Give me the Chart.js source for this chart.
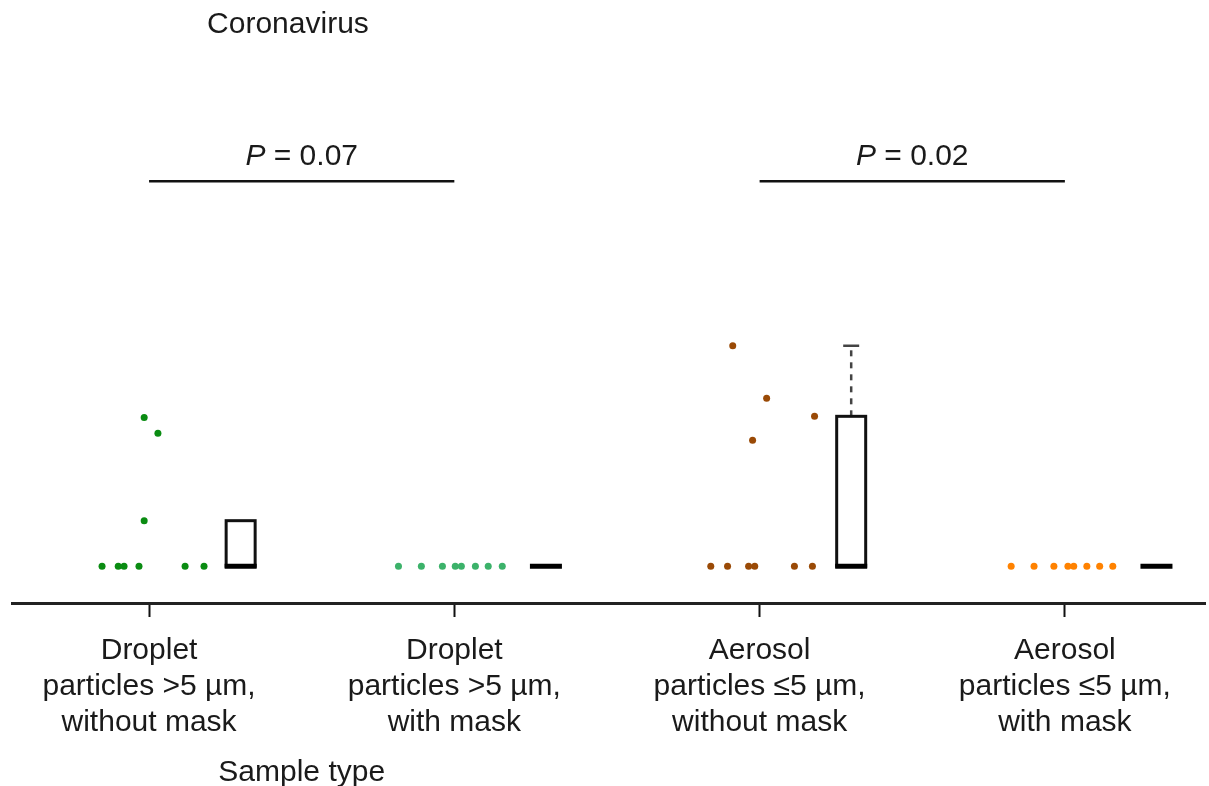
<!DOCTYPE html>
<html>
<head>
<meta charset="utf-8">
<script src="https://cdn.jsdelivr.net/npm/chart.js@4.4.0/dist/chart.umd.min.js"></script>
<style>
    body { margin: 0; background: #fff; }
    #wrap { width: 1209px; height: 786px; position: relative; }
</style>
</head>
<body>
<div id="wrap"><canvas id="chart"></canvas></div>
<script>
// Sample types on the x axis
const categories = [
    ['Droplet', 'particles >5 µm,', 'without mask'],
    ['Droplet', 'particles >5 µm,', 'with mask'],
    ['Aerosol', 'particles ≤5 µm,', 'without mask'],
    ['Aerosol', 'particles ≤5 µm,', 'with mask']
];
const pointColors = ['#0a8c12', '#3cb26a', '#9a4a06', '#ff8200'];

// Individual sample values (arbitrary viral load units) and horizontal jitter
const pointValues = [
    [4.05, 3.62, 1.24, 0, 0, 0, 0, 0, 0],
    [0, 0, 0, 0, 0, 0, 0, 0],
    [6.0, 4.57, 4.08, 3.43, 0, 0, 0, 0, 0, 0],
    [0, 0, 0, 0, 0, 0, 0, 0]
];
const pointJitter = [
    [-0.016, 0.029, -0.016, -0.154, -0.101, -0.082, -0.033, 0.118, 0.180],
    [-0.183, -0.108, -0.039, 0.003, 0.023, 0.069, 0.111, 0.157],
    [-0.088, 0.023, 0.180, -0.023, -0.160, -0.105, -0.036, -0.016, 0.114, 0.173],
    [-0.176, -0.101, -0.036, 0.010, 0.029, 0.072, 0.114, 0.157]
];

// Box plot summaries
const boxQ1 = [0, 0, 0, 0];
const boxMedian = [0, 0, 0, 0];
const boxQ3 = [1.24, 0, 4.08, 0];
const whiskerHigh = [1.24, 0, 6.0, 0];

// Comparisons
const comparisons = [[0, 1], [2, 3]];
const pValues = ['0.07', '0.02'];
const comparisonLevel = 10.48;

const chartTitle = 'Coronavirus';
const xAxisTitle = 'Sample type';

const FONT = '"Liberation Sans", Arial, sans-serif';
const FONT_SIZE = 30;
const BOX_OFFSET = 0.3;
const BOX_HALF = 16;

const datasets = pointValues.map((vals, i) => ({
    label: categories[i].join(' '),
    data: vals.map((v, j) => ({ x: i + pointJitter[i][j], y: v })),
    backgroundColor: pointColors[i],
    borderColor: pointColors[i],
    pointRadius: 3.5,
    borderWidth: 0
}));

const boxPlugin = {
    id: 'boxes',
    afterDatasetsDraw(chart) {
        const ctx = chart.ctx;
        const xs = chart.scales.x;
        const ys = chart.scales.y;
        ctx.save();
        for (let i = 0; i < categories.length; i++) {
            const cx = xs.getPixelForValue(i + BOX_OFFSET);
            const yQ1 = ys.getPixelForValue(boxQ1[i]);
            const yQ3 = ys.getPixelForValue(boxQ3[i]);
            const yMed = ys.getPixelForValue(boxMedian[i]);
            const yHi = ys.getPixelForValue(whiskerHigh[i]);

            // whisker
            if (whiskerHigh[i] > boxQ3[i]) {
                ctx.strokeStyle = '#444';
                ctx.lineWidth = 2.5;
                ctx.setLineDash([6, 6]);
                ctx.beginPath();
                ctx.moveTo(cx, yQ3);
                ctx.lineTo(cx, yHi);
                ctx.stroke();
                ctx.setLineDash([]);
                ctx.beginPath();
                ctx.moveTo(cx - 8, yHi);
                ctx.lineTo(cx + 8, yHi);
                ctx.stroke();
            }

            // box
            if (boxQ3[i] > boxQ1[i]) {
                ctx.strokeStyle = '#111';
                ctx.lineWidth = 3;
                ctx.strokeRect(cx - BOX_HALF + 1.5, yQ3, BOX_HALF * 2 - 3, yQ1 - yQ3);
            }

            // median
            ctx.fillStyle = '#000';
            ctx.fillRect(cx - BOX_HALF, yMed - 2.5, BOX_HALF * 2, 5);
        }
        ctx.restore();
    }
};

const textPlugin = {
    id: 'texts',
    afterDraw(chart) {
        const ctx = chart.ctx;
        const xs = chart.scales.x;
        const ys = chart.scales.y;
        const f = FONT_SIZE + 'px ' + FONT;
        ctx.save();
        ctx.fillStyle = '#1a1a1a';
        ctx.textBaseline = 'middle';
        ctx.textAlign = 'center';
        ctx.font = f;
        ctx.fillText(chartTitle, xs.getPixelForValue(0.455), 25);
        ctx.fillText(xAxisTitle, xs.getPixelForValue(0.5), 773);

        const yLine = ys.getPixelForValue(comparisonLevel);
        comparisons.forEach((pair, k) => {
            const x1 = xs.getPixelForValue(pair[0]);
            const x2 = xs.getPixelForValue(pair[1]);
            ctx.strokeStyle = '#111';
            ctx.lineWidth = 2.5;
            ctx.beginPath();
            ctx.moveTo(x1, yLine);
            ctx.lineTo(x2, yLine);
            ctx.stroke();

            const mid = (x1 + x2) / 2;
            const pText = 'P';
            const rest = ' = ' + pValues[k];
            ctx.font = 'italic ' + f;
            const wP = ctx.measureText(pText).width;
            ctx.font = f;
            const wR = ctx.measureText(rest).width;
            const start = mid - (wP + wR) / 2;
            ctx.textAlign = 'left';
            ctx.font = 'italic ' + f;
            ctx.fillText(pText, start, yLine - 24);
            ctx.font = f;
            ctx.fillText(rest, start + wP, yLine - 24);
            ctx.textAlign = 'center';
        });
        ctx.restore();
    }
};

new Chart(document.getElementById('chart'), {
    type: 'scatter',
    data: { datasets: datasets },
    options: {
        responsive: true,
        maintainAspectRatio: false,
        animation: false,
        layout: { padding: { left: 12, right: 0, top: 0, bottom: 0 } },
        plugins: {
            legend: { display: false },
            tooltip: { enabled: false }
        },
        scales: {
            x: {
                type: 'linear',
                min: -0.449,
                max: 3.459,
                afterBuildTicks(scale) {
                    scale.ticks = categories.map((c, i) => ({ value: i }));
                },
                afterFit(scale) {
                    scale.height = 183;
                },
                grid: {
                    drawOnChartArea: false,
                    drawTicks: true,
                    tickLength: 14,
                    tickWidth: 2,
                    tickColor: '#111'
                },
                border: { color: '#222', width: 3 },
                ticks: {
                    padding: 16,
                    color: '#1a1a1a',
                    font: { family: FONT, size: FONT_SIZE, lineHeight: 1.2 },
                    maxRotation: 0,
                    autoSkip: false,
                    callback: (v) => categories[v]
                }
            },
            y: {
                display: false,
                min: -1,
                max: 15.3
            }
        }
    },
    plugins: [boxPlugin, textPlugin]
});
</script>
</body>
</html>
